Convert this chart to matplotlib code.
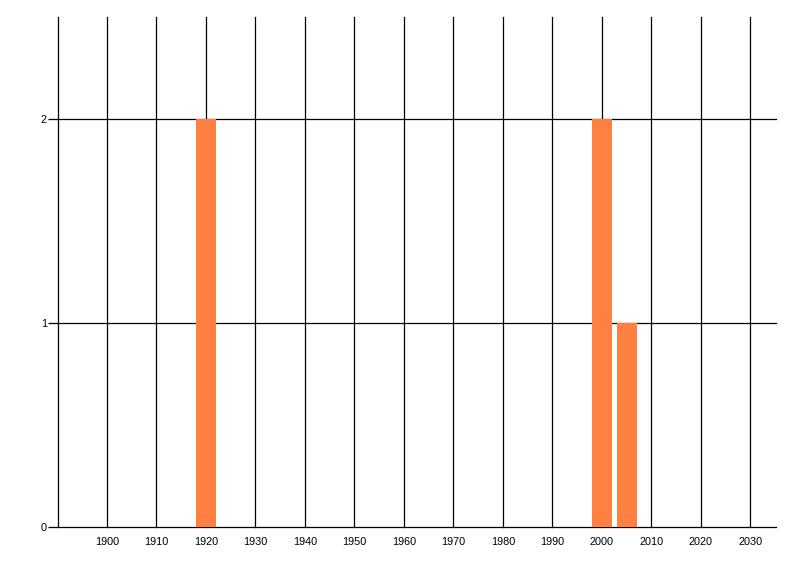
import matplotlib
matplotlib.use("Agg")
import matplotlib.pyplot as plt

# data
years = [1920, 2000, 2005]
counts = [2, 2, 1]
decade_ticks = list(range(1900, 2031, 10))
grid_years = list(range(1890, 2031, 10))
y_ticks = [0, 1, 2]

plt.rcParams['font.family'] = ['Liberation Sans', 'DejaVu Sans']

fig = plt.figure(figsize=(8, 5.76), dpi=100)
ax = fig.add_axes([57.5 / 800, 49 / 576, (775.7 - 57.5) / 800, 510 / 576])

ax.bar(years, counts, width=4, color="#FF8040", zorder=3)

# grid lines (1890 one is the left edge, 0 one is the bottom)
for gx in grid_years:
    ax.axvline(gx, color="black", lw=0.9, zorder=1, clip_on=False)
for gy in y_ticks:
    ax.axhline(gy, color="black", lw=0.9, zorder=1, clip_on=False)

ax.set_xlim(1890, 2035.1)
ax.set_ylim(0, 2.5)
ax.set_xticks(decade_ticks)
ax.set_xticklabels([str(t) for t in decade_ticks])
ax.set_yticks(y_ticks)
ax.tick_params(axis="x", length=0, pad=7, labelsize=7.8)
ax.tick_params(axis="y", length=6.2, width=0.9, pad=1.5, labelsize=7.8, color="black")

for s in ax.spines.values():
    s.set_visible(False)

fig.savefig("out.png", dpi=100)
